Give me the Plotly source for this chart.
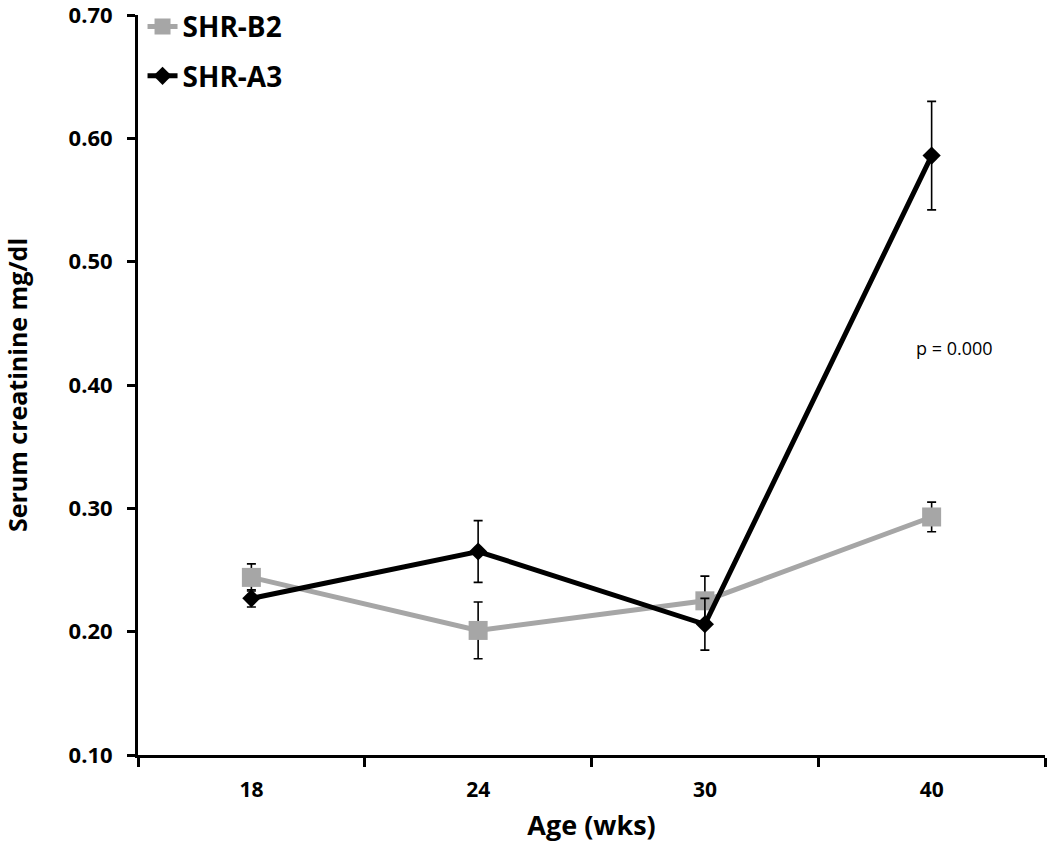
import plotly.graph_objects as go

ages = ["18", "24", "30", "40"]
b2_vals = [0.244, 0.201, 0.225, 0.293]
b2_err = [0.011, 0.023, 0.020, 0.012]
a3_vals = [0.227, 0.265, 0.206, 0.586]
a3_err = [0.007, 0.025, 0.021, 0.044]
y_ticks = [0.10, 0.20, 0.30, 0.40, 0.50, 0.60, 0.70]

xpos = list(range(len(ages)))
FONT = "Open Sans, Arial"

fig = go.Figure()
fig.add_trace(go.Scatter(
    x=xpos, y=b2_vals, name="SHR-B2", mode="lines+markers", legendgroup="b2",
    line=dict(color="#a6a6a6", width=5),
    marker=dict(symbol="square", size=19, color="#a6a6a6"),
    error_y=dict(type="data", array=b2_err, color="black", thickness=1.6, width=4.5),
))
fig.add_trace(go.Scatter(
    x=xpos, y=a3_vals, name="SHR-A3", mode="lines+markers", legendgroup="a3",
    line=dict(color="black", width=5),
    marker=dict(symbol="diamond", size=14, color="black"),
    error_y=dict(type="data", array=a3_err, color="black", thickness=1.6, width=4.5),
))

fig.add_annotation(x=xpos[-1], y=0.43, text="p = 0.000", showarrow=False,
                   xshift=23, font=dict(family=FONT, size=18, color="black"))

fig.update_layout(
    width=1050, height=846,
    margin=dict(l=138, r=5, t=15, b=91, autoexpand=False),
    plot_bgcolor="white", paper_bgcolor="white",
    font=dict(family=FONT, color="black"),
    showlegend=True,
    legend=dict(x=0.005, y=1.018, xanchor="left", yanchor="top",
                font=dict(family=FONT, size=28, color="black", weight="bold"),
                bgcolor="rgba(0,0,0,0)", itemwidth=30, tracegroupgap=10),
    xaxis=dict(
        range=[-0.5, len(ages) - 0.5], tickvals=xpos, ticktext=ages,
        ticks="", showline=True, linecolor="black", linewidth=3,
        showgrid=False, zeroline=False, automargin=False, ticklabelstandoff=14,
        minor=dict(tick0=-0.5, dtick=1, ticks="outside", ticklen=9, tickwidth=2.5,
                   tickcolor="black", showgrid=False),
        tickfont=dict(family=FONT, size=21, weight="bold"),
        title=dict(text="Age (wks)", font=dict(family=FONT, size=27, weight="bold"), standoff=14),
    ),
    yaxis=dict(
        range=[0.10, 0.70], tickvals=y_ticks, ticktext=[f"{v:.2f}" for v in y_ticks],
        ticks="outside", ticklen=8, tickwidth=2.5, tickcolor="black",
        showline=True, linecolor="black", linewidth=3, showgrid=False, zeroline=False,
        automargin=False, ticklabeloverflow="allow", ticklabelstandoff=10,
        tickfont=dict(family=FONT, size=22, weight="bold"),
        title=dict(text="Serum creatinine mg/dl", font=dict(family=FONT, size=25, weight="bold"), standoff=34),
    ),
)

fig.write_html("out.html", config={"displayModeBar": False},
               post_script="document.body.style.margin='0';")
